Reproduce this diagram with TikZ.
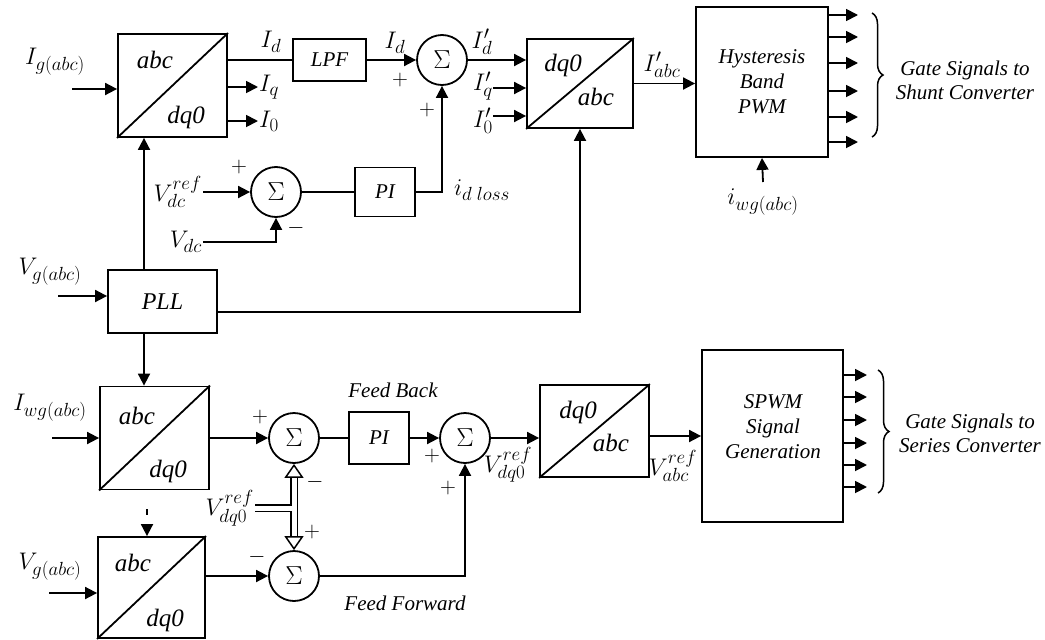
\RequirePackage{fix-cm}
\documentclass[tikz,border=0pt]{standalone}
\usepackage{fontspec}
\setmainfont{Liberation Serif}
\DeclareMathSizes{24}{24}{19}{15}
\DeclareMathSizes{26}{26}{20}{16}
\usetikzlibrary{arrows.meta,calc,decorations.pathreplacing}
\tikzset{
  blockbox/.style={
    draw=black,
    line width=1.8pt,
    inner sep=0pt
  },
  sumnode/.style={
    circle,
    draw=black,
    line width=1.8pt,
    minimum size=50pt,
    inner sep=0pt,
    font=\fontsize{26}{26}\selectfont
  },
  sigline/.style={
    draw=black,
    line width=1.8pt,
    -{Triangle[length=12pt,width=12pt]}
  },
  wireline/.style={
    draw=black,
    line width=1.8pt
  },
  refline/.style={
    draw=black,
    line width=1.5pt,
    double=white,
    double distance=5pt
  },
  bracebar/.style={
    draw=black,
    line width=1.5pt,
    decorate,
    decoration={brace,amplitude=11pt}
  },
  boxtext/.style={font=\fontsize{21}{25}\selectfont\itshape,align=center},
  parktext/.style={font=\fontsize{25}{28}\selectfont\itshape},
  siglabel/.style={font=\fontsize{24}{26}\selectfont,inner sep=1pt},
  signmark/.style={font=\fontsize{22}{22}\selectfont,inner sep=0pt},
  notetext/.style={font=\fontsize{21}{24}\selectfont\itshape,align=center}
}

\begin{document}
\begin{tikzpicture}[x=1pt,y=-1pt]
  \useasboundingbox (0,0) rectangle (1045,640);

  % abc -> dq0 transformation of the grid current.
  \node[blockbox,minimum width=109pt,minimum height=103pt] (parkig) at (172.5,85.5) {};
  \draw[wireline] (parkig.south west) -- (parkig.north east);
  \node[parktext] (parkigA) at (155,60) {abc};
  \node[parktext] (parkigB) at (186,117) {dq0};

  % Filter, summing junction and inverse transformation.
  \node[blockbox,boxtext,minimum width=73pt,minimum height=42pt] (lpf) at (329.5,60) {LPF};
  \node[sumnode] (sumi) at (442,60) {$\Sigma$};
  \node[blockbox,minimum width=106pt,minimum height=89pt] (iparkt) at (580,83.5) {};
  \draw[wireline] (iparkt.south west) -- (iparkt.north east);
  \node[parktext] (iparktA) at (563,65) {dq0};
  \node[parktext] (iparktB) at (596,97) {abc};
  \node[blockbox,boxtext,minimum width=132pt,minimum height=150pt] (hyst) at (762,82) {Hysteresis\\Band\\PWM};

  % DC-link voltage loop.
  \node[sumnode] (sumdc) at (276,192) {$\Sigma$};
  \node[blockbox,boxtext,minimum width=60pt,minimum height=49pt] (pidc) at (385,192) {PI};

  % Phase-locked loop.
  \node[blockbox,minimum width=109pt,minimum height=63pt,font=\fontsize{24}{28}\selectfont\itshape] (pll) at (162.5,301.5) {PLL};

  % Series converter chain.
  \node[blockbox,minimum width=109pt,minimum height=103pt] (parkiwg) at (154.5,438) {};
  \draw[wireline] (parkiwg.south west) -- (parkiwg.north east);
  \node[parktext] (parkiwgA) at (137,416) {abc};
  \node[parktext] (parkiwgB) at (168,471) {dq0};
  \node[blockbox,minimum width=107pt,minimum height=101pt] (parkvg) at (151.5,587.5) {};
  \draw[wireline] (parkvg.south west) -- (parkvg.north east);
  \node[parktext] (parkvgA) at (133,563) {abc};
  \node[parktext] (parkvgB) at (165,620) {dq0};
  \node[sumnode] (sumfb) at (294,438) {$\Sigma$};
  \node[sumnode] (sumff) at (294,576) {$\Sigma$};
  \node[blockbox,boxtext,minimum width=60pt,minimum height=52pt] (pifb) at (379,438) {PI};
  \node[sumnode] (sumout) at (465,438) {$\Sigma$};
  \node[blockbox,minimum width=109pt,minimum height=92pt] (iparkb) at (594.5,431) {};
  \draw[wireline] (iparkb.south west) -- (iparkb.north east);
  \node[parktext] (iparkbA) at (578,412) {dq0};
  \node[parktext] (iparkbB) at (611,443) {abc};
  \node[blockbox,minimum width=141pt,minimum height=172pt] (spwm) at (772.5,436) {};
  \node[boxtext] (spwmtxt) at (773,427) {SPWM\\Signal\\Generation};

  % Free ends of the input signals.
  \coordinate (igin) at (72,89);
  \coordinate (iqend) at (258,87);
  \coordinate (i0end) at (258,121);
  \coordinate (vdcrefin) at (203,192);
  \coordinate (vdcin) at (203,242);
  \coordinate (iqpin) at (493,88);
  \coordinate (i0pin) at (493,116);
  \coordinate (iwgup) at (763,182);
  \coordinate (vgin1) at (58,296);
  \coordinate (pllup) at (144,270);
  \coordinate (iwgin) at (52,438);
  \coordinate (vgin2) at (49,593);
  \coordinate (vdqref) at (255,508);
  \coordinate (ticktop) at (147,509);

  % Connections of the shunt part.
  \draw[sigline] (igin) -- (igin -| parkig.west);
  \draw[wireline] (parkig.east |- lpf) -- (lpf.west);
  \draw[sigline] (iqend -| parkig.east) -- (iqend);
  \draw[sigline] (i0end -| parkig.east) -- (i0end);
  \draw[sigline] (lpf.east) -- (sumi.west);
  \draw[sigline] (sumi.east) -- (sumi -| iparkt.west);
  \draw[sigline] (iqpin) -- (iqpin -| iparkt.west);
  \draw[sigline] (i0pin) -- (i0pin -| iparkt.west);
  \draw[sigline] (iparkt.east) -- (iparkt.east -| hyst.west);
  \draw[sigline] (iwgup) -- (hyst.south);
  \draw[sigline] (vdcrefin) -- (sumdc.west);
  \draw[sigline] (vdcin) -| (sumdc.south);
  \draw[wireline] (sumdc.east) -- (pidc.west);
  \draw[sigline] (pidc.east) -| (sumi.south);
  \draw[sigline] (vgin1) -- (vgin1 -| pll.west);
  \draw[sigline] (pllup) -- (pllup |- parkig.south);
  \draw[sigline] ([yshift=-10.5pt]pll.east) -| (iparkt.south);

  % Connections of the series part.
  \draw[sigline] (pllup |- pll.south) -- (pllup |- parkiwg.north);
  \draw[sigline] (iwgin) -- (iwgin -| parkiwg.west);
  \draw[sigline] (parkiwg.east) -- (sumfb.west);
  \draw[wireline] (sumfb.east) -- (pifb.west);
  \draw[sigline] (pifb.east) -- (sumout.west);
  \draw[sigline] (sumout.east) -- (sumout -| iparkb.west);
  \draw[sigline] (iparkb.east |- spwm) -- (spwm.west);
  \draw[sigline,dash pattern=on 6pt off 30pt] (ticktop) -- (ticktop |- parkvg.north);
  \draw[sigline] (vgin2) -- (vgin2 -| parkvg.west);
  \draw[sigline] (parkvg.east |- sumff) -- (sumff.west);
  \draw[sigline] (sumff.east) -| (sumout.south);

  % Reference voltage split to both junctions.
  \draw[refline] (vdqref) -- (vdqref -| sumfb);
  \draw[refline,{Triangle[open,length=14pt,width=19pt]}-{Triangle[open,length=14pt,width=19pt]}] (sumfb.south) -- (sumff.north);
  \fill[white] ($(vdqref -| sumfb)+(-6,-2.5)$) rectangle ($(vdqref -| sumfb)+(0,2.5)$);

  % Gate signal outputs.
  \foreach \yy [count=\k] in {15,37,63,91,117,142}{
    \coordinate (shg\k) at (858,\yy);
    \draw[sigline] (shg\k -| hyst.east) -- (shg\k);
  }
  \foreach \yy [count=\k] in {375,397,420,443,465,487}{
    \coordinate (seg\k) at (867,\yy);
    \draw[sigline] (seg\k -| spwm.east) -- (seg\k);
  }
  \coordinate (shbrtop) at (872,13);
  \coordinate (shbrbot) at (872,137);
  \coordinate (sebrtop) at (878,370);
  \coordinate (sebrbot) at (878,493);
  \draw[bracebar] (shbrtop) -- (shbrbot);
  \draw[bracebar] (sebrtop) -- (sebrbot);
  \node[notetext] (shgate) at (965,80) {Gate Signals to\\Shunt Converter};
  \node[notetext] (segate) at (970,433) {Gate Signals to\\Series Converter};

  % Signal names.
  \node[siglabel] (lblIg) at (55,62) {$I_{g(abc)}$};
  \node[siglabel] (lblId) at (271,42) {$I_d$};
  \node[siglabel,anchor=west] (lblIq) at (iqend) {$I_q$};
  \node[siglabel,anchor=west] (lblI0) at (i0end) {$I_0$};
  \node[siglabel] (lblIdf) at (395,43) {$I_d$};
  \node[siglabel,inner sep=0pt] (lblIdp) at (482,42) {$I'_d$};
  \node[siglabel,anchor=east,inner sep=0pt] (lblIqp) at ([yshift=2pt]iqpin) {$I'_q$};
  \node[siglabel,anchor=east,inner sep=0pt] (lblI0p) at ([yshift=-5pt]i0pin) {$I'_0$};
  \node[siglabel] (lblIabc) at (662,65) {$I'_{abc}$};
  \node[siglabel] (lbliwg) at (763,202) {$i_{wg(abc)}$};
  \node[siglabel,anchor=east] (lblVdcref) at (vdcrefin) {$V_{dc}^{ref}$};
  \node[siglabel,anchor=east] (lblVdc) at (vdcin) {$V_{dc}$};
  \node[siglabel] (lblidl) at (482,190) {$i_{d\;loss}$};
  \node[siglabel] (lblVg1) at (50,272) {$V_{g(abc)}$};
  \node[siglabel] (lblIwg) at (50,408) {$I_{wg(abc)}$};
  \node[siglabel] (lblVg2) at (50,567) {$V_{g(abc)}$};
  \node[siglabel,anchor=east] (lblVdqref) at (vdqref) {$V_{dq0}^{ref}$};
  \node[siglabel] (lblVdqout) at (508,465) {$V_{dq0}^{ref}$};
  \node[siglabel] (lblVabc) at (673,466) {$V_{abc}^{ref}$};
  \node[notetext] (lblfb) at (393,390) {Feed Back};
  \node[notetext] (lblff) at (405,603) {Feed Forward};

  % Signs at the summing junctions.
  \node[signmark] (sgA) at (400,80) {$+$};
  \node[signmark] (sgB) at (427,110) {$+$};
  \node[signmark] (sgC) at (239,167) {$+$};
  \node[signmark] (sgD) at (296,228) {$-$};
  \node[signmark] (sgE) at (260,417) {$+$};
  \node[signmark] (sgF) at (315,482) {$-$};
  \node[signmark] (sgG) at (312,532) {$+$};
  \node[signmark] (sgH) at (257,557) {$-$};
  \node[signmark] (sgI) at (432,456) {$+$};
  \node[signmark] (sgJ) at (448,488) {$+$};

\end{tikzpicture}
\end{document}
